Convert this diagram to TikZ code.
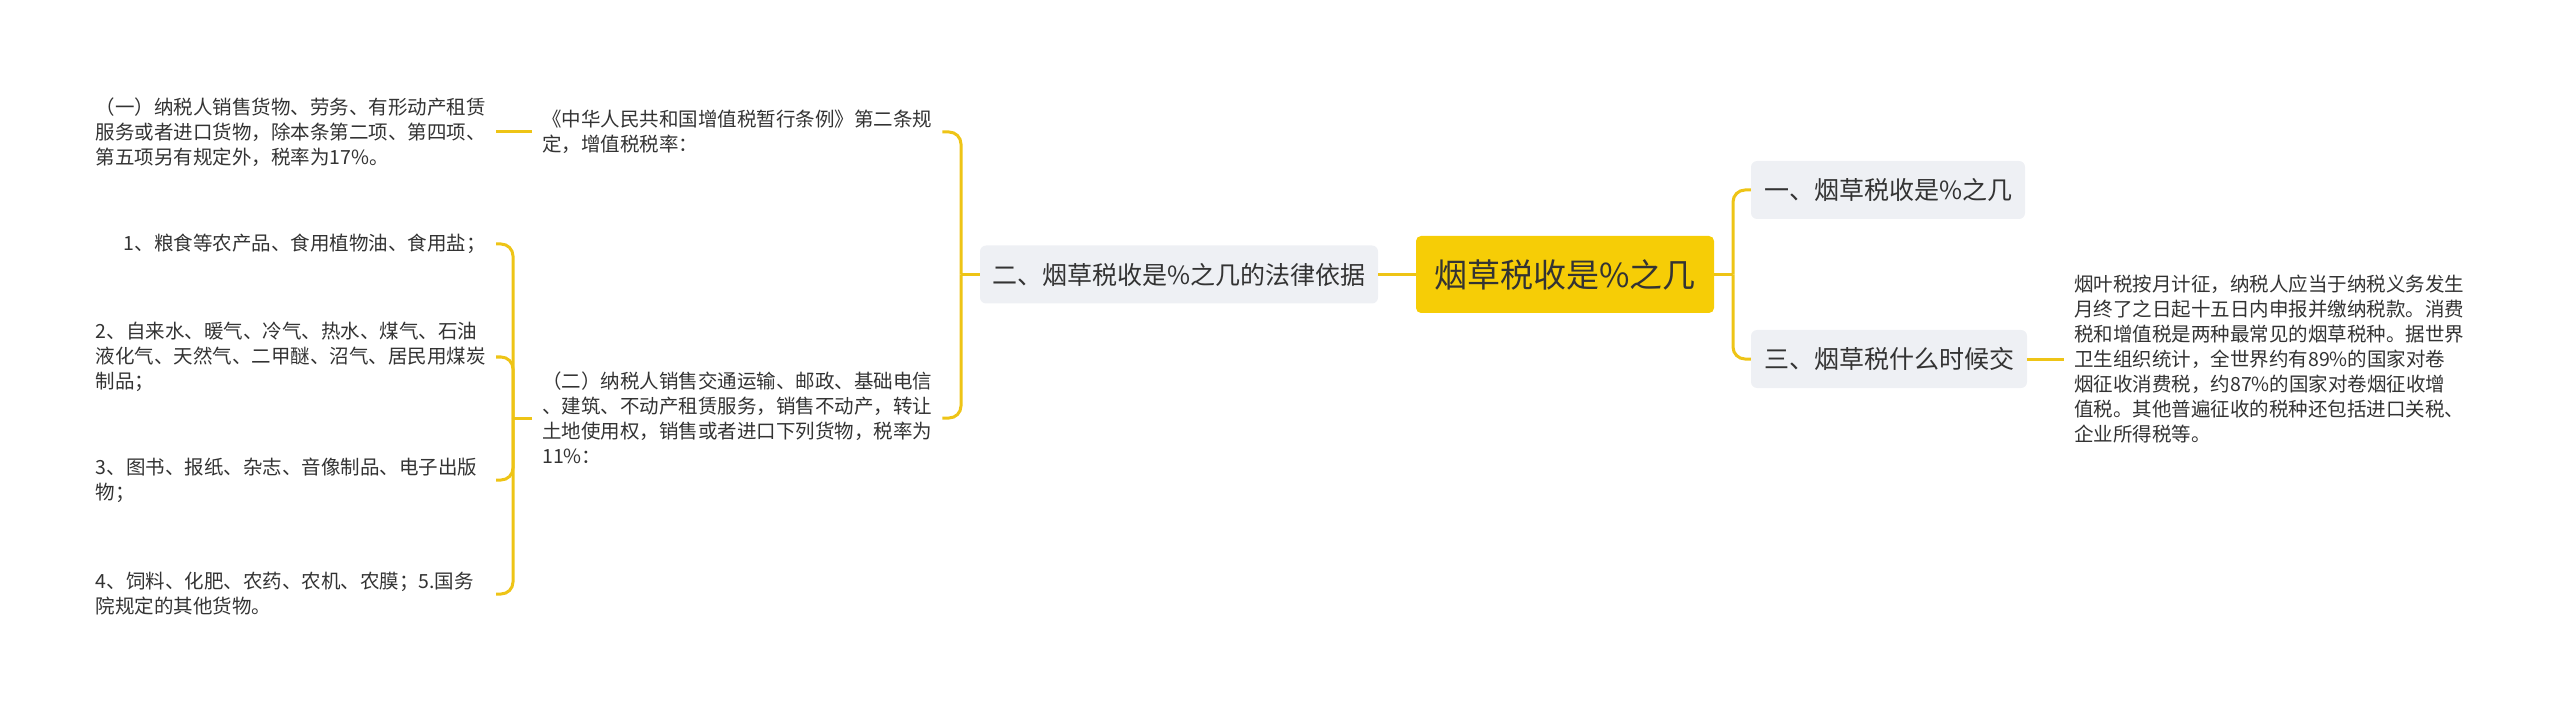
\documentclass[tikz,border=0pt]{standalone}
\usepackage{fontspec}
\setmainfont{Noto Sans CJK SC}
\usepackage{xcolor}
\usepackage{tikz}
\definecolor{linecol}{RGB}{238,196,22}
\definecolor{rootcol}{RGB}{246,205,6}
\definecolor{subcol}{RGB}{238,240,244}
\definecolor{textcol}{RGB}{51,51,51}

\begin{document}
\begin{tikzpicture}[x=1pt, y=-1pt,
rootbox/.style={rectangle, fill=rootcol, rounded corners=5pt, minimum width=298pt, minimum height=77pt, inner sep=0pt, font=\fontsize{33}{40}\selectfont, text=textcol},
topic/.style={rectangle, fill=subcol, rounded corners=6pt, minimum height=58pt, inner sep=0pt, font=\fontsize{25}{30}\selectfont, text=textcol},
leafbox/.style={rectangle, inner xsep=10pt, inner ysep=2pt, align=left, font=\fontsize{19.5}{25}\selectfont, text=textcol},
link/.style={draw=linecol, line width=3pt, rounded corners=12pt}
]
\useasboundingbox (0,0) rectangle (2560,711);

\node[rootbox] (n0) at (1565,274.5) {烟草税收是\%之几};
\node[topic, minimum width=398pt] (n1) at (1179,274.5) {二、烟草税收是\%之几的法律依据};
\node[topic, minimum width=274pt] (n2) at (1888,190) {一、烟草税收是\%之几};
\node[topic, minimum width=276pt] (n3) at (1889,359) {三、烟草税什么时候交};

\node[leafbox, anchor=west] (n4) at (2064,359) {烟叶税按月计征，纳税人应当于纳税义务发生\\月终了之日起十五日内申报并缴纳税款。消费\\税和增值税是两种最常见的烟草税种。据世界\\卫生组织统计，全世界约有89\%的国家对卷\\烟征收消费税，约87\%的国家对卷烟征收增\\值税。其他普遍征收的税种还包括进口关税、\\企业所得税等。};

\node[leafbox, anchor=west] (n5) at (532,132) {《中华人民共和国增值税暂行条例》第二条规\\定，增值税税率：};
\node[leafbox, anchor=west] (n6) at (532,418) {（二）纳税人销售交通运输、邮政、基础电信\\、建筑、不动产租赁服务，销售不动产，转让\\土地使用权，销售或者进口下列货物，税率为\\11\%：};

\node[leafbox, anchor=east, text width=390pt] (n7) at (496,132) {（一）纳税人销售货物、劳务、有形动产租赁\\服务或者进口货物，除本条第二项、第四项、\\第五项另有规定外，税率为17\%。};
\node[leafbox, anchor=east] (n8) at (496,244) {1、粮食等农产品、食用植物油、食用盐；};
\node[leafbox, anchor=east, text width=390pt] (n9) at (496,357) {2、自来水、暖气、冷气、热水、煤气、石油\\液化气、天然气、二甲醚、沼气、居民用煤炭\\制品；};
\node[leafbox, anchor=east, text width=390pt] (n10) at (496,480) {3、图书、报纸、杂志、音像制品、电子出版\\物；};
\node[leafbox, anchor=east, text width=390pt] (n11) at (496,594) {4、饲料、化肥、农药、农机、农膜；5.国务\\院规定的其他货物。};

\coordinate (j0) at (1733,274.5);
\coordinate (j1) at (961,274.5);
\coordinate (j6) at (513,418);

\draw[link] (n0) -- (n1);
\draw[link] (n0.east) -- (j0);
\draw[link] (j0) |- (n2.west);
\draw[link] (j0) |- (n3.west);
\draw[link] (n3.east) -- (n4.west);
\draw[link] (n1.west) -- (j1);
\draw[link] (j1) |- (n5.east);
\draw[link] (j1) |- (n6.east);
\draw[link] (n5.west) -- (n7.east);
\draw[link] (n6.west) -- (j6);
\draw[link] (j6) |- (n8.east);
\draw[link] (j6) |- (n9.east);
\draw[link] (j6) |- (n10.east);
\draw[link] (j6) |- (n11.east);

\end{tikzpicture}
\end{document}
